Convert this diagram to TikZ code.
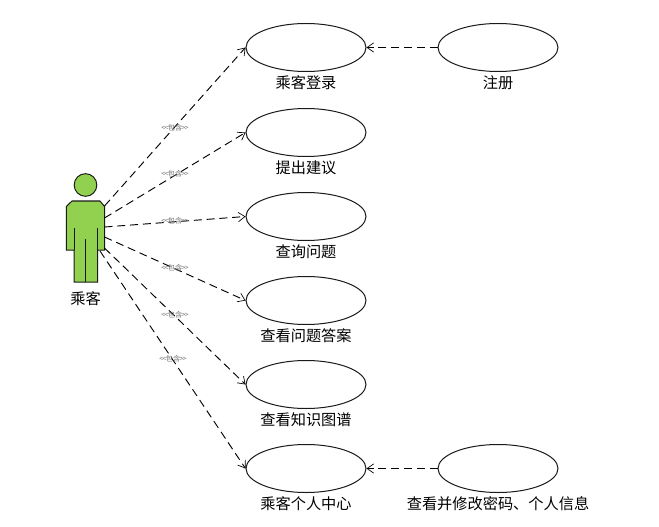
\documentclass[tikz,border=0pt]{standalone}
\usepackage{fontspec}
\setmainfont{Noto Sans CJK SC}
\usetikzlibrary{arrows.meta,shapes.geometric}
\definecolor{actorgreen}{HTML}{92D050}
\definecolor{inkline}{HTML}{1A1A1A}
\newcommand{\incl}{<\kern-0.6pt<\kern-0.6pt包含\kern-0.6pt>\kern-0.6pt>}
\tikzset{
  x=0.75pt,y=-0.75pt,
  usecase/.style={draw=inkline,line width=0.75pt,ellipse,minimum width=90pt,minimum height=36pt,inner sep=0pt,fill=white},
  caption/.style={font=\fontsize{11.4pt}{13pt}\selectfont,text=black,inner sep=0pt},
  relation/.style={draw=black,line width=0.7pt,dash pattern=on 6pt off 3.6pt,-{Straight Barb[length=5pt,width=7pt,line width=0.5pt]}},
  stereo/.style={font=\fontsize{5.4pt}{6pt}\selectfont,text=black!55,inner sep=0pt},
  limb/.style={draw=inkline,line width=0.75pt},
}
\begin{document}
\begin{tikzpicture}
\useasboundingbox (0,0) rectangle (659,527);
% use cases
\node[usecase] (login) at (306,47.5) {};
\node[usecase] (advice) at (306,132.5) {};
\node[usecase] (query) at (306,216.5) {};
\node[usecase] (answer) at (306,300.5) {};
\node[usecase] (graph) at (306,384.5) {};
\node[usecase] (center) at (306,468.5) {};
\node[usecase] (register) at (498,47.5) {};
\node[usecase] (profile) at (498,468.5) {};
% captions
\node[caption] (t1) at (306,83) {乘客登录};
\node[caption] (t2) at (306,168) {提出建议};
\node[caption] (t3) at (306,252) {查询问题};
\node[caption] (t4) at (306,336) {查看问题答案};
\node[caption] (t5) at (306,420) {查看知识图谱};
\node[caption] (t6) at (306,504) {乘客个人中心};
\node[caption] (t7) at (498,83) {注册};
\node[caption] (t8) at (498,504) {查看并修改密码、个人信息};
\node[caption] (t9) at (85.5,299) {乘客};
% actor figure
\draw[limb,fill=actorgreen] (85.5,185) circle (8.5pt);
\draw[limb,fill=actorgreen] (72,201) -- (100,201) -- (104.5,206.5) -- (104.5,250) -- (97.5,250) -- (97.5,282) -- (74,282) -- (74,250) -- (66.3,250) -- (66.3,206.5) -- cycle;
\draw[limb] (74,228) -- (74,250);
\draw[limb] (97.5,228) -- (97.5,250);
\draw[limb] (85.5,239) -- (85.5,282);
% connector start points on the actor's outline
\coordinate (a1) at (104.5,206);
\coordinate (a2) at (104.5,218);
\coordinate (a3) at (104.5,227);
\coordinate (a4) at (104.5,237);
\coordinate (a5) at (104.5,248);
\coordinate (a6) at (100,251);
% includes
\draw[relation] (a1) -- (login.west);
\draw[relation] (a2) -- (advice.west);
\draw[relation] (a3) -- (query.west);
\draw[relation] (a4) -- (answer.west);
\draw[relation] (a5) -- (graph.west);
\draw[relation] (a6) -- (center.west);
\draw[relation] (register.west) -- (login.east);
\draw[relation] (profile.west) -- (center.east);
% stereotype labels
\node[stereo] (s1) at (175,127.7) {\incl};
\node[stereo] (s2) at (175,173.7) {\incl};
\node[stereo] (s3) at (175,220.7) {\incl};
\node[stereo] (s4) at (175,267.7) {\incl};
\node[stereo] (s5) at (175,314.7) {\incl};
\node[stereo] (s6) at (173,358.7) {\incl};
\end{tikzpicture}
\end{document}
